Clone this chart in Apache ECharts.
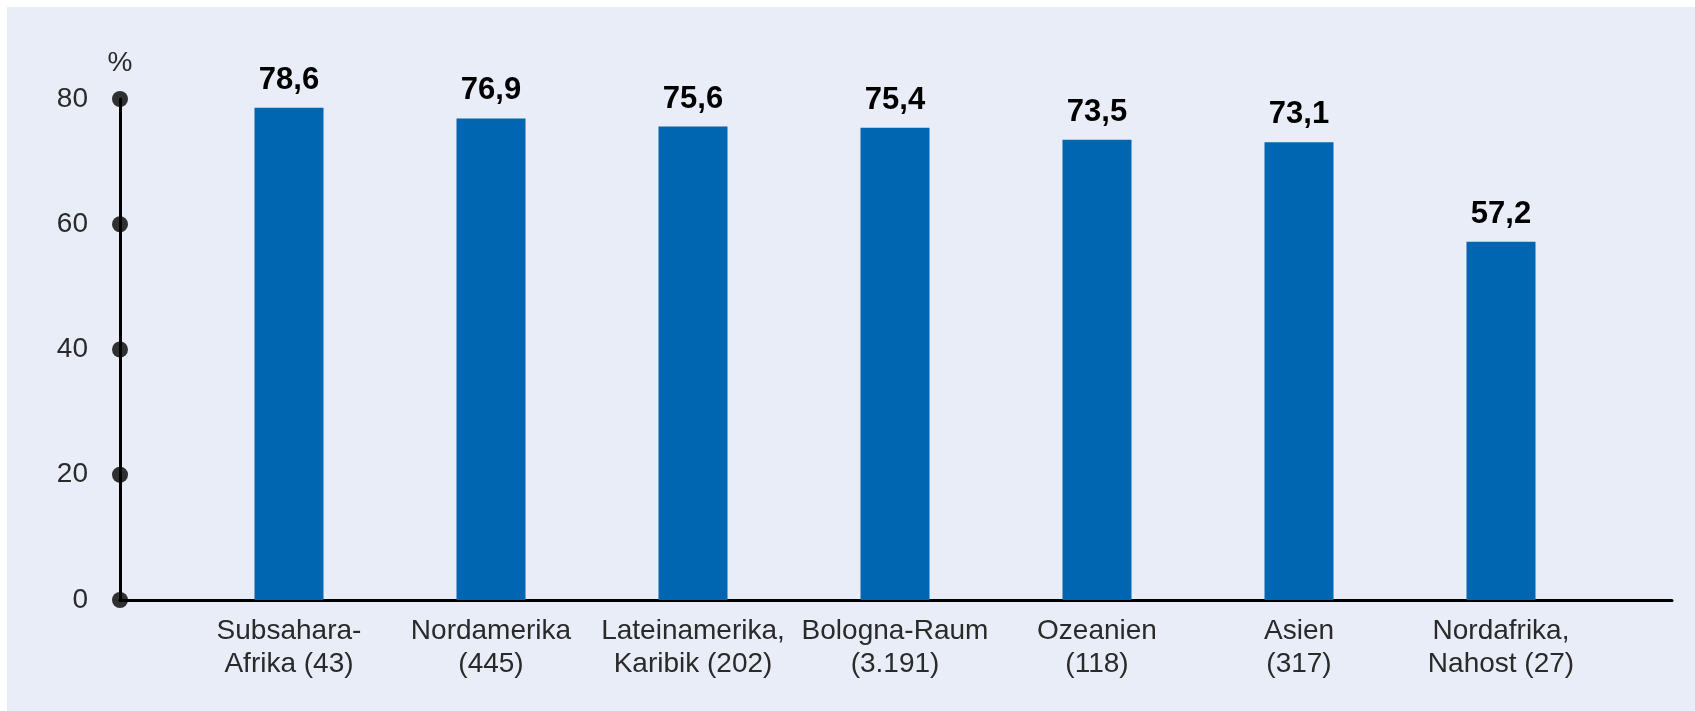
<!DOCTYPE html>
<html>
<head>
<meta charset="utf-8">
<title>Anteil nach Herkunftsregion</title>
<script src="https://cdn.jsdelivr.net/npm/echarts@6/dist/echarts.min.js"></script>
<style>
  html, body { margin: 0; padding: 0; background: #ffffff; }
  #chart { width: 1695px; height: 711px; }
</style>
</head>
<body>
<div id="chart"></div>
<script>
// data
const categories = [
  'Subsahara-\nAfrika (43)',
  'Nordamerika\n(445)',
  'Lateinamerika,\nKaribik (202)',
  'Bologna-Raum\n(3.191)',
  'Ozeanien\n(118)',
  'Asien\n(317)',
  'Nordafrika,\nNahost (27)'
]
const values = [78.6, 76.9, 75.6, 75.4, 73.5, 73.1, 57.2]
const yTicks = [0, 20, 40, 60, 80]
const yUnit = '%'

const panelColor = '#e8edf7'
const barColor = '#0066b1'
const textColor = '#2a2a2a'
const fontFamily = '"Liberation Sans", Arial, sans-serif'

const chart = echarts.init(document.getElementById('chart'))

const option = {
  backgroundColor: '#ffffff',
  animation: false,
  textStyle: { fontFamily: fontFamily },
  graphic: [
    {
      type: 'rect',
      z: -100,
      silent: true,
      shape: { x: 7, y: 7, width: 1688, height: 704 },
      style: { fill: panelColor }
    }
  ],
  grid: [
    // axis frame
    { left: 120, right: 23, top: 99, bottom: 111 },
    // bars
    { left: 188, right: 93, top: 99, bottom: 111 }
  ],
  xAxis: [
    {
      gridIndex: 0,
      type: 'value',
      min: 0,
      max: 1,
      axisLine: { show: true, lineStyle: { color: '#000', width: 3 } },
      axisTick: { show: false },
      axisLabel: { show: false },
      splitLine: { show: false }
    },
    {
      gridIndex: 1,
      type: 'category',
      data: categories,
      axisLine: { show: false },
      axisTick: { show: false },
      axisLabel: {
        interval: 0,
        margin: 15,
        fontSize: 28,
        lineHeight: 33,
        color: textColor
      }
    }
  ],
  yAxis: [
    {
      gridIndex: 0,
      type: 'value',
      min: 0,
      max: 80,
      interval: 20,
      name: yUnit,
      nameLocation: 'end',
      nameGap: 22,
      nameTextStyle: { fontSize: 28, color: textColor, align: 'center' },
      axisLine: { show: true, lineStyle: { color: '#000', width: 3 } },
      axisTick: { show: false },
      axisLabel: { margin: 32, fontSize: 28, color: textColor },
      splitLine: { show: false }
    },
    {
      gridIndex: 1,
      type: 'value',
      min: 0,
      max: 80,
      show: false
    }
  ],
  series: [
    {
      type: 'bar',
      xAxisIndex: 1,
      yAxisIndex: 1,
      data: values,
      barWidth: 69,
      itemStyle: { color: barColor },
      label: {
        show: true,
        position: 'top',
        distance: 12,
        fontSize: 31,
        fontWeight: 'bold',
        color: '#000',
        formatter: p => p.value.toFixed(1).replace('.', ',')
      }
    },
    {
      // dots on the value axis ticks
      type: 'scatter',
      xAxisIndex: 0,
      yAxisIndex: 0,
      clip: false,
      z: 5,
      symbol: 'circle',
      symbolSize: 16,
      itemStyle: { color: '#000' },
      data: yTicks.map(t => [0, t])
    }
  ]
}

chart.setOption(option)
window.addEventListener('resize', () => chart.resize())
</script>
</body>
</html>
